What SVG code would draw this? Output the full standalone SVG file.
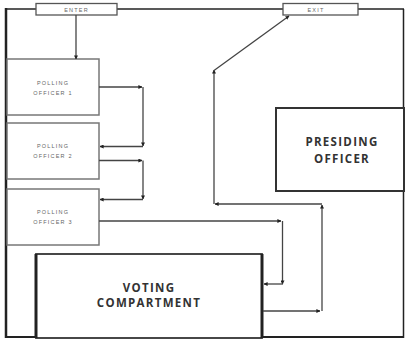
<svg xmlns="http://www.w3.org/2000/svg" width="406" height="340" viewBox="0 0 406 340">
<defs>
<marker id="ah" viewBox="0 0 10 10" refX="9" refY="5" markerWidth="4" markerHeight="4" orient="auto" markerUnits="userSpaceOnUse">
<path d="M0,0 L10,5 L0,10 z" fill="#222"/>
</marker>
<style>
.wall{stroke:#222;fill:none}
.box{fill:#fff;stroke:#777;stroke-width:1.5}
.big{fill:#fff;stroke:#333;stroke-width:2}
.door{fill:#fff;stroke:#555;stroke-width:1.3}
.small{font-family:"Liberation Sans",Arial,sans-serif;font-size:5.5px;fill:#666;text-anchor:middle;letter-spacing:1.2px}
.label{font-family:"Open Sans","Liberation Sans",Arial,sans-serif;font-weight:bold;font-size:11.5px;fill:#333;text-anchor:middle;letter-spacing:1.3px}
.c{fill:none;stroke:#444;stroke-width:1.3}
.ca{fill:none;stroke:#444;stroke-width:1.3;marker-end:url(#ah)}
</style>
</defs>
<rect width="406" height="340" fill="#fff"/>
<g id="walls">
<line class="wall" x1="6" y1="9" x2="404" y2="9" stroke-width="1.5"/>
<line class="wall" x1="6" y1="8" x2="6" y2="338" stroke-width="2.5"/>
<line class="wall" x1="403.5" y1="9" x2="403.5" y2="338" stroke-width="1.5"/>
<line class="wall" x1="5" y1="337" x2="404" y2="337" stroke-width="2"/>
</g>
<g id="enter"><rect class="door" x="36" y="3.5" width="81" height="11.5"/><text class="small" x="76.5" y="11.5">ENTER</text></g>
<g id="exit"><rect class="door" x="283" y="3.5" width="75" height="11.5"/><text class="small" x="316" y="11.5">EXIT</text></g>
<g id="po1"><rect class="box" x="7" y="59" width="92" height="56"/><text class="small" x="53" y="85">POLLING</text><text class="small" x="53" y="95">OFFICER 1</text></g>
<g id="po2"><rect class="box" x="7" y="123" width="92" height="56"/><text class="small" x="53" y="148">POLLING</text><text class="small" x="53" y="158">OFFICER 2</text></g>
<g id="po3"><rect class="box" x="7" y="189" width="92" height="56"/><text class="small" x="53" y="214">POLLING</text><text class="small" x="53" y="224">OFFICER 3</text></g>
<g id="presiding"><rect class="big" x="276" y="108" width="128" height="83"/><text class="label" x="342" y="146">PRESIDING</text><text class="label" x="342" y="163">OFFICER</text></g>
<g id="voting"><rect x="36" y="254" width="226" height="84" fill="#fff" stroke="#333" stroke-width="1.8"/><line x1="36" y1="254" x2="36" y2="338" stroke="#222" stroke-width="3"/><line x1="262" y1="254" x2="262" y2="338" stroke="#222" stroke-width="3"/><text class="label" x="149" y="292">VOTING</text><text class="label" x="149" y="307">COMPARTMENT</text></g>
<g id="connectors">
<line class="ca" x1="76" y1="15" x2="76" y2="59" stroke="#666"/>
<line class="ca" x1="99" y1="87" x2="142" y2="87"/>
<line class="ca" x1="143" y1="87" x2="143" y2="146"/>
<line class="ca" x1="143" y1="146.5" x2="100" y2="146.5"/>
<line class="ca" x1="99" y1="160.5" x2="142" y2="160.5"/>
<line class="ca" x1="143" y1="160.5" x2="143" y2="199"/>
<line class="ca" x1="143" y1="199.5" x2="100" y2="199.5"/>
<line class="ca" x1="99" y1="221" x2="281" y2="221"/>
<line class="ca" x1="282.5" y1="221" x2="282.5" y2="284"/>
<line class="ca" x1="283" y1="284" x2="264" y2="284"/>
<line class="ca" x1="263" y1="311" x2="320" y2="311"/>
<line class="ca" x1="322" y1="311" x2="322" y2="205" stroke-width="1.8"/>
<line class="ca" x1="322" y1="204" x2="215" y2="204"/>
<line class="ca" x1="214" y1="204" x2="214" y2="70"/>
<line class="ca" x1="214" y1="70.5" x2="289" y2="16"/>
</g>
</svg>
